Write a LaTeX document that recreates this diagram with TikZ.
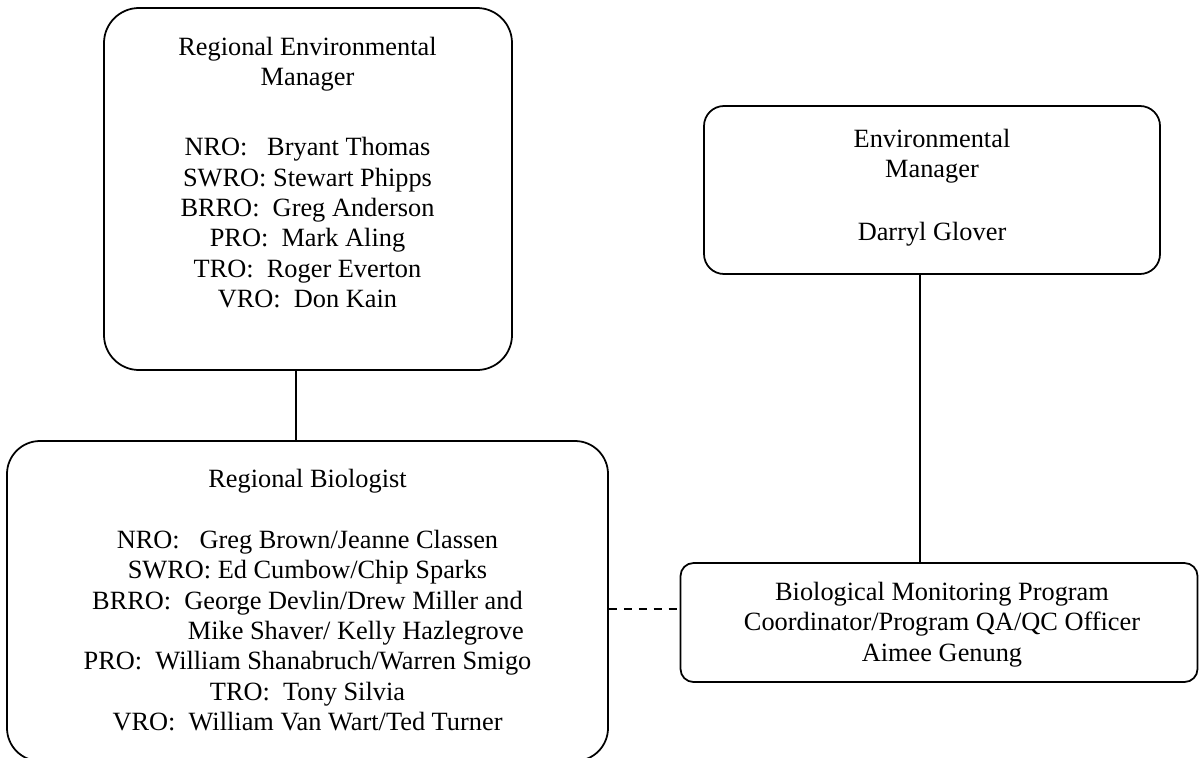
\documentclass[tikz,border=0pt]{standalone}
\usepackage{fontspec}
\setmainfont{Liberation Serif}
\newcommand\pxu{0.4554pt}
\newcommand\fl{\rule{0pt}{10pt}}
\begin{document}
\begin{tikzpicture}[x=\pxu, y=-\pxu,
  box/.style={draw, line width=0.8pt, inner sep=0pt},
  txt/.style={inner sep=0pt, anchor=north, align=center, font=\fontsize{12}{13.8}\selectfont},
  conn/.style={line width=0.8pt},
  dconn/.style={line width=0.8pt, dash pattern=on 3.6pt off 3.2pt}]
\useasboundingbox (0,0) rectangle (1199,757);
% boxes
\node[box, rounded corners=35*\pxu, minimum width=408*\pxu, minimum height=362*\pxu] (rem) at (308,189) {};
\node[box, rounded corners=33*\pxu, minimum width=601*\pxu, minimum height=320*\pxu] (rb) at (307.5,601) {};
\node[box, rounded corners=20*\pxu, minimum width=456*\pxu, minimum height=168*\pxu] (em) at (932,190) {};
\node[box, rounded corners=13*\pxu, minimum width=517*\pxu, minimum height=119*\pxu] (bmp) at (939,622.5) {};
% texts
\node[txt] (remtxt) at (307.5,33.04) {\fl Regional Environmental\\Manager\\[18.1pt]NRO:\ \ \ Bryant Thomas\\SWRO: Stewart Phipps\\BRRO:\ \ Greg Anderson\\PRO:\ \ Mark Aling\\TRO:\ \ Roger Everton\\VRO:\ \ Don Kain};
\node[txt] (rbtxt) at (307.5,465.04) {\fl Regional Biologist\\[14pt]NRO:\ \ \ Greg Brown/Jeanne Classen\\SWRO: Ed Cumbow/Chip Sparks\\BRRO:\ \ George Devlin/Drew Miller and\\\hspace*{44pt}Mike Shaver/ Kelly Hazlegrove\\PRO:\ \ William Shanabruch/Warren Smigo\\TRO:\ \ Tony Silvia\hspace*{20pt}\\VRO:\ \ William Van Wart/Ted Turner};
\node[txt] (emtxt) at (932,125.04) {\fl Environmental\\Manager\\[14.7pt]Darryl Glover};
\node[txt] (bmptxt) at (942,578.04) {\fl Biological Monitoring Program\\Coordinator/Program QA/QC Officer\\Aimee Genung};
% connectors
\draw[conn] ([xshift=-12*\pxu]rem.south) -- ([xshift=-12*\pxu]rem.south |- rb.north);
\draw[conn] ([xshift=-12*\pxu]em.south) -- ([xshift=-12*\pxu]em.south |- bmp.north);
\draw[dconn] ([yshift=-8*\pxu]rb.east) -- ([yshift=-8*\pxu]rb.east -| bmp.west);
\end{tikzpicture}
\end{document}
